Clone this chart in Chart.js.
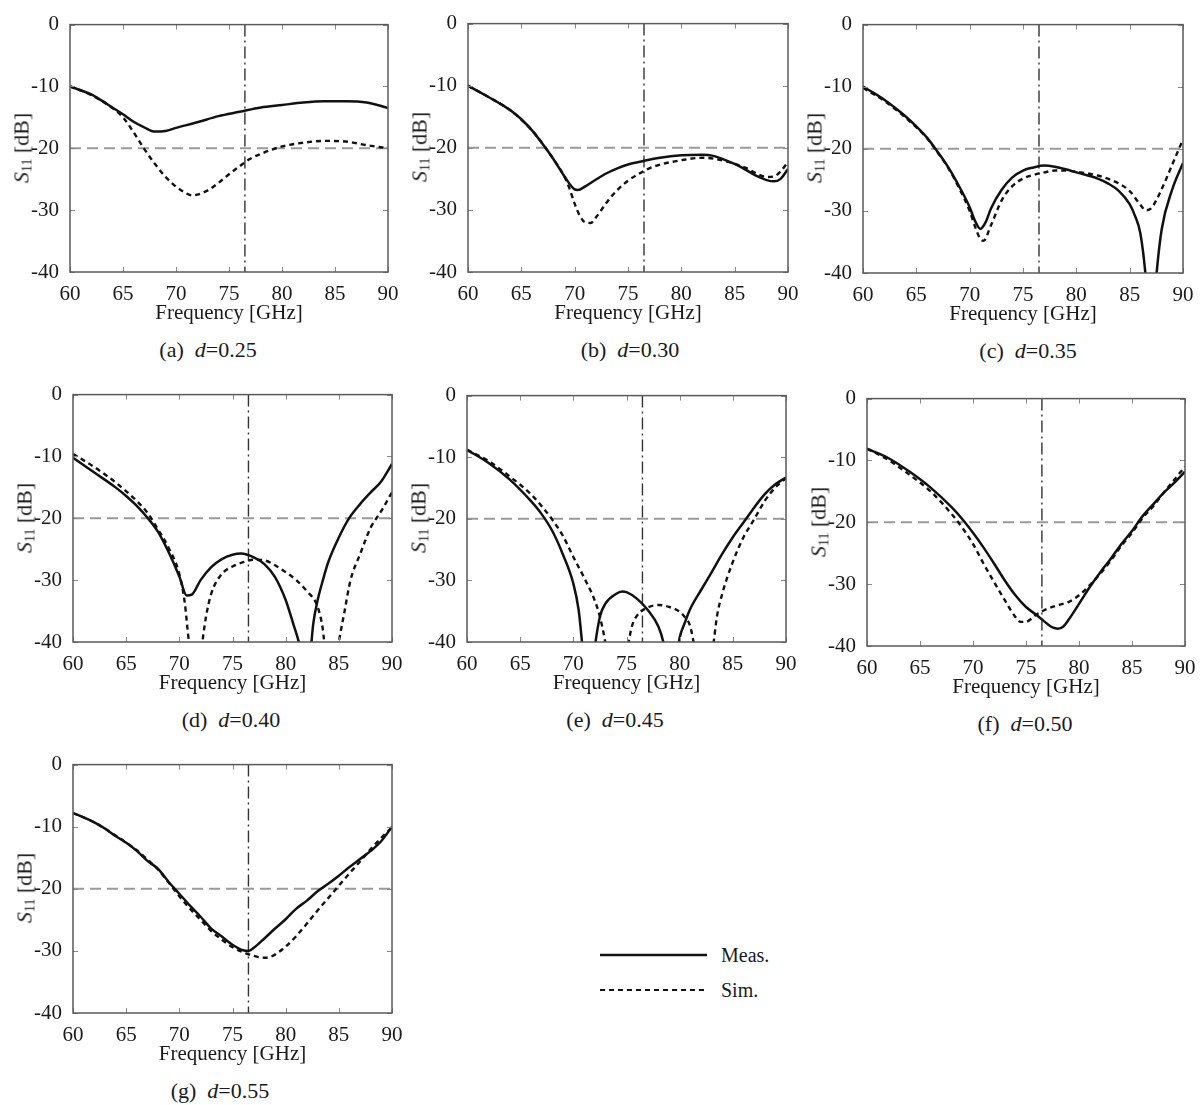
<!DOCTYPE html>
<html>
<head>
<meta charset="utf-8">
<title>S11 vs frequency</title>
<script src="https://cdn.jsdelivr.net/npm/chart.js@4.4.1/dist/chart.umd.min.js"></script>
<style>
    body { margin: 0; background: #fff; width: 1204px; height: 1105px; position: relative; overflow: hidden;
           font-family: "Liberation Serif", "Times New Roman", serif; color: #1a1a1a; }
    canvas { position: absolute; }
    .ylab { position: absolute; transform: translate(-50%, -50%) rotate(-90deg); white-space: nowrap; font-size: 22px; }
    .ylab sub { font-size: 14px; vertical-align: -3px; }
    .cap { position: absolute; transform: translate(-50%, -50%); white-space: nowrap; font-size: 22px; }
    .legtxt { position: absolute; transform: translateY(-50%); font-size: 20px; }
    svg { position: absolute; left: 0; top: 0; }
</style>
</head>
<body>
<svg width="1204" height="1105">
    <line x1="600" y1="955" x2="707" y2="955" stroke="#111" stroke-width="2.5"/>
    <line x1="600" y1="990" x2="707" y2="990" stroke="#111" stroke-width="2" stroke-dasharray="5 4"/>
</svg>
<div class="legtxt" style="left:721px; top:955px">Meas.</div>
<div class="legtxt" style="left:721px; top:990px">Sim.</div>

<script>
// axis ticks
const freqTicks = [60, 65, 70, 75, 80, 85, 90];
const dbTicks = [0, -10, -20, -30, -40];

// reference lines: -20 dB level and 76.5 GHz marker
const refLevelF = [60, 90];
const refLevelDb = [-20, -20];
const refFreqF = [76.5, 76.5];
const refFreqDb = [0, -40];

// panel captions
const panelTags = ['(a)', '(b)', '(c)', '(d)', '(e)', '(f)', '(g)'];
const dValues = ['0.25', '0.30', '0.35', '0.40', '0.45', '0.50', '0.55'];

// (a) d=0.25
const measAf = [60, 62, 63, 64, 65, 66, 67, 68, 69, 70, 72, 74, 76, 78, 80, 82, 84, 86, 88, 89, 90];
const measAdb = [-10, -11.3, -12.3, -13.4, -14.5, -15.7, -16.6, -17.3, -17.2, -16.7, -15.8, -14.8, -14.1, -13.4, -13, -12.6, -12.4, -12.4, -12.6, -13, -13.5];
const simAf = [60, 62, 64, 65, 66, 67, 68, 69, 70, 71, 71.5, 72, 73, 74, 75, 76, 77, 78, 80, 82, 84, 86, 88, 90];
const simAdb = [-10, -11.4, -13.5, -15, -17.4, -20.1, -22.5, -24.6, -26.2, -27.3, -27.6, -27.5, -26.8, -25.6, -24.2, -22.9, -21.7, -20.9, -19.7, -19.1, -18.8, -18.9, -19.5, -20];

// (b) d=0.30
const measBf = [60, 62, 64, 65, 66, 67, 68, 69, 70, 70.3, 71, 72, 73, 74, 75, 76, 78, 80, 82, 83, 84, 85, 86, 87, 88, 88.7, 89.3, 90];
const measBdb = [-10, -11.9, -14, -15.4, -17.2, -19.4, -21.8, -24.5, -26.7, -26.8, -26.2, -25.1, -24.1, -23.3, -22.7, -22.3, -21.6, -21.2, -21.1, -21.3, -21.9, -22.6, -23.5, -24.5, -25.2, -25.4, -25, -23.4];
const simBf = [60, 62, 64, 66, 68, 69, 69.5, 70, 70.5, 71, 71.5, 72, 73, 74, 75, 76, 77, 78, 80, 82, 84, 86, 87, 88, 88.7, 89.3, 90];
const simBdb = [-10, -11.9, -14, -17.2, -21.8, -24.5, -26.5, -29, -31, -32, -32.1, -31.2, -28.8, -26.8, -25.3, -24.2, -23.3, -22.7, -22, -21.6, -22.1, -23.2, -24.1, -24.7, -24.6, -23.8, -22.3];

// (c) d=0.35
const measCf = [60, 61, 62, 63, 64, 65, 66, 67, 68, 69, 70, 70.5, 71, 71.5, 72, 73, 74, 75, 76, 77, 78, 79, 80, 82, 83, 84, 85, 85.5, 86, 86.5, 87, 87.5, 88, 89, 90];
const measCdb = [-10, -11, -12.1, -13.4, -14.8, -16.4, -18.2, -20.5, -23, -26, -29.4, -31.6, -32.9, -31.8, -29.6, -26.6, -24.6, -23.5, -23, -22.7, -22.9, -23.3, -23.8, -24.8, -25.6, -26.8, -28.9, -30.8, -33.6, -40.5, -52, -40.5, -33, -26.5, -22.3];
const simCf = [60, 62, 64, 66, 67, 68, 69, 70, 70.5, 71, 71.3, 72, 73, 74, 75, 76, 77, 78, 79, 80, 82, 84, 85, 86, 86.5, 87, 88, 89, 90];
const simCdb = [-10.2, -12.3, -15, -18.3, -20.6, -23.1, -26.3, -30, -32.5, -34.5, -34.8, -32.3, -28.3, -26, -24.8, -24.2, -23.8, -23.5, -23.5, -23.7, -24.3, -25.6, -26.8, -29, -29.9, -29.6, -26.5, -22.5, -18.5];

// (d) d=0.40
const measDf = [60, 62, 64, 65, 66, 67, 68, 69, 70, 70.7, 71.2, 72, 73, 74, 75, 75.8, 77, 78, 79, 80, 80.7, 81.3, 82, 82.4, 82.6, 83, 83.5, 84, 85, 86, 87, 88, 89, 90];
const measDdb = [-10.2, -12.6, -15, -16.4, -18, -19.9, -22.2, -25.5, -29.4, -32.5, -32.3, -30, -27.9, -26.6, -25.9, -25.7, -26.3, -27.4, -29.5, -33.2, -37, -40.5, -48, -40.5, -37, -33.3, -30, -27.1, -23.1, -19.9, -17.7, -15.8, -14, -11.2];
const simDf = [60, 62, 64, 66, 67, 68, 69, 70, 70.5, 70.9, 71.5, 72, 72.5, 73, 74, 75, 76, 77, 78, 79, 80, 81, 82, 83, 83.5, 84, 84.5, 85, 85.5, 86.1, 87, 88, 89, 90];
const simDdb = [-9.6, -11.7, -14.2, -17.2, -19.1, -21.8, -24.8, -29, -33.5, -40, -47, -42, -36, -32.2, -29, -27.8, -27.1, -26.7, -26.8, -27.6, -28.7, -30, -31.8, -34.3, -38, -46, -46, -40, -35.4, -30, -25.8, -21.5, -18.8, -15.8];

// (e) d=0.45
const measEf = [60, 62, 64, 66, 67, 68, 69, 70, 70.5, 71, 71.5, 72, 72.5, 73, 74, 74.6, 75, 76, 77, 78, 78.5, 79, 79.5, 80, 80.5, 81, 82, 83, 84, 85, 86, 87, 88, 89, 90];
const measEdb = [-8.8, -10.9, -13.6, -17.1, -19.2, -21.9, -25.7, -30.5, -34.8, -43, -48, -41, -35.9, -33.8, -32.2, -31.8, -31.9, -33, -34.8, -37.5, -40.3, -46, -45, -39.3, -36.8, -34.6, -31.6, -28.7, -25.7, -23, -20.6, -18.2, -16, -14.4, -13.3];
const simEf = [60, 62, 64, 66, 67, 68, 69, 70, 71, 72, 72.5, 73, 73.5, 74, 74.5, 75.2, 75.5, 76, 77, 78, 79, 80, 80.5, 81, 81.5, 82, 82.5, 83.2, 83.5, 84, 85, 86, 87, 88, 89, 90];
const simEdb = [-8.8, -10.6, -13.1, -16, -17.9, -20.1, -22.7, -26.2, -29.5, -33.2, -35.9, -40, -46, -50, -46, -40, -37.5, -35.7, -34.4, -34, -34.3, -35.1, -36, -37.5, -42, -48, -48, -40, -35.9, -32.2, -27, -23, -20.1, -17.1, -14.9, -13.4];

// (f) d=0.50
const measFf = [60, 62, 64, 66, 68, 69, 70, 71, 72, 73, 74, 75, 76, 76.5, 77, 77.5, 78, 78.5, 79, 80, 81, 82, 83, 84, 85, 86, 87, 88, 89, 90];
const measFdb = [-8.1, -9.6, -11.8, -14.4, -17.6, -19.5, -21.7, -24.1, -26.7, -29.4, -31.8, -33.7, -35, -35.7, -36.4, -37, -37.2, -36.9, -35.8, -33.2, -30.5, -28.1, -25.9, -23.5, -21.4, -19, -17.1, -15.2, -13.6, -11.8];
const simFf = [60, 62, 64, 66, 68, 69, 70, 71, 72, 73, 74, 74.5, 75, 75.5, 76, 77, 78, 79, 80, 81, 82, 83, 84, 85, 86, 87, 88, 89, 90];
const simFdb = [-8.1, -9.9, -12.3, -15, -18.7, -20.9, -23.5, -26.7, -29.7, -32.6, -35.3, -36.1, -36.1, -35.6, -34.9, -34, -33.4, -32.9, -31.8, -30.2, -28.3, -26.2, -23.8, -21.7, -19.3, -17.4, -15.2, -13.1, -11];

// (g) d=0.55
const measGf = [60, 61, 62, 63, 64, 65, 66, 67, 68, 69, 70, 71, 72, 73, 74, 75, 76, 76.5, 77, 78, 79, 80, 81, 82, 83, 84, 85, 86, 87, 88, 89, 90];
const measGdb = [-7.8, -8.5, -9.3, -10.3, -11.5, -12.6, -13.9, -15.5, -16.8, -18.9, -20.8, -22.7, -24.5, -26.4, -27.7, -29, -29.9, -30, -29.5, -28, -26.4, -24.9, -23.2, -21.9, -20.4, -19.2, -17.9, -16.5, -15.2, -13.9, -12.3, -10];
const simGf = [60, 62, 64, 66, 67, 68, 69, 70, 71, 72, 73, 74, 75, 76, 77, 78, 78.5, 79, 80, 81, 82, 83, 84, 85, 86, 87, 88, 89, 90];
const simGdb = [-7.8, -9.3, -11.4, -13.8, -15.3, -16.9, -19, -21.2, -23.2, -25, -26.8, -28.2, -29.4, -30.2, -30.8, -31.1, -31, -30.6, -29.3, -27.6, -25.6, -23.5, -21.5, -19.5, -17.5, -15.6, -13.6, -11.8, -10.1];

const measF = [measAf, measBf, measCf, measDf, measEf, measFf, measGf];
const measDb = [measAdb, measBdb, measCdb, measDdb, measEdb, measFdb, measGdb];
const simF = [simAf, simBf, simCf, simDf, simEf, simFf, simGf];
const simDb = [simAdb, simBdb, simCdb, simDdb, simEdb, simFdb, simGdb];

// plot-area rectangles on the page (layout only)
const plotBoxes = [
    { left: 70,  top: 23,  w: 318, h: 249, capX: 208 },
    { left: 468, top: 22,  w: 320, h: 250, capX: 630 },
    { left: 863, top: 23,  w: 320, h: 250, capX: 1028 },
    { left: 73,  top: 393, w: 319, h: 249, capX: 231 },
    { left: 467, top: 394, w: 319, h: 248, capX: 615 },
    { left: 867, top: 397, w: 318, h: 249, capX: 1025 },
    { left: 73,  top: 763, w: 319, h: 250, capX: 220 }
];

const FONT = '"Liberation Serif", "Times New Roman", serif';
const PAD_LEFT = 60, PAD_TOP = 14, PAD_RIGHT = 16, PAD_BOTTOM = 52;

const pts = (f, v) => f.map((x, i) => ({ x: x, y: v[i] }));

// box frame with inward ticks, like the original plots
const framePlugin = {
    id: 'frame',
    afterDatasetsDraw(chart) {
        const { ctx, chartArea: a, scales } = chart;
        ctx.save();
        ctx.strokeStyle = '#8a8a8a';
        ctx.lineWidth = 1;
        ctx.beginPath();
        freqTicks.forEach(t => {
            const px = Math.round(scales.x.getPixelForValue(t)) + 0.5;
            ctx.moveTo(px, a.bottom); ctx.lineTo(px, a.bottom - 5);
            ctx.moveTo(px, a.top); ctx.lineTo(px, a.top + 5);
        });
        dbTicks.forEach(t => {
            const py = Math.round(scales.y.getPixelForValue(t)) + 0.5;
            ctx.moveTo(a.left, py); ctx.lineTo(a.left + 5, py);
            ctx.moveTo(a.right, py); ctx.lineTo(a.right - 5, py);
        });
        ctx.stroke();
        ctx.strokeStyle = '#5a5a5a';
        ctx.lineWidth = 1.5;
        ctx.strokeRect(a.left, a.top, a.right - a.left, a.bottom - a.top);
        ctx.restore();
    }
};

function makePanel(i) {
    const box = plotBoxes[i];
    const cv = document.createElement('canvas');
    const W = box.w + PAD_LEFT + PAD_RIGHT;
    const H = box.h + PAD_TOP + PAD_BOTTOM;
    cv.width = W; cv.height = H;
    cv.style.width = W + 'px'; cv.style.height = H + 'px';
    cv.style.left = (box.left - PAD_LEFT) + 'px';
    cv.style.top = (box.top - PAD_TOP) + 'px';
    document.body.appendChild(cv);

    new Chart(cv, {
        type: 'line',
        data: {
            datasets: [
                { data: pts(measF[i], measDb[i]), borderColor: '#111', borderWidth: 2.5,
                  cubicInterpolationMode: 'monotone', clip: 0 },
                { data: pts(simF[i], simDb[i]), borderColor: '#111', borderWidth: 2.4, borderDash: [5, 4],
                  cubicInterpolationMode: 'monotone', clip: 0 },
                { data: pts(refLevelF, refLevelDb), borderColor: '#9a9a9a', borderWidth: 2, borderDash: [11, 6], clip: 0 },
                { data: pts(refFreqF, refFreqDb), borderColor: '#333', borderWidth: 1.4, borderDash: [12, 4, 2, 4], clip: 0 }
            ]
        },
        options: {
            responsive: false,
            animation: false,
            events: [],
            layout: { padding: { left: 0, top: PAD_TOP, right: PAD_RIGHT, bottom: 0 } },
            elements: { point: { radius: 0 } },
            plugins: { legend: { display: false }, tooltip: { enabled: false } },
            scales: {
                x: {
                    type: 'linear', min: 60, max: 90,
                    afterBuildTicks: s => { s.ticks = freqTicks.map(v => ({ value: v })); },
                    ticks: { font: { family: FONT, size: 21 }, color: '#1a1a1a', padding: 2, maxRotation: 0 },
                    grid: { display: false }, border: { display: false },
                    title: { display: true, text: 'Frequency [GHz]', color: '#1a1a1a', padding: 0,
                             font: { family: FONT, size: 21, lineHeight: 1 } },
                    afterFit: s => { s.height = PAD_BOTTOM; }
                },
                y: {
                    type: 'linear', min: -40, max: 0,
                    afterBuildTicks: s => { s.ticks = dbTicks.slice().reverse().map(v => ({ value: v })); },
                    ticks: { font: { family: FONT, size: 21 }, color: '#1a1a1a', padding: 3 },
                    grid: { display: false }, border: { display: false },
                    afterFit: s => { s.width = PAD_LEFT; }
                }
            }
        },
        plugins: [framePlugin]
    });

    const yl = document.createElement('div');
    yl.className = 'ylab';
    yl.innerHTML = '<i>S</i><sub>11</sub> [dB]';
    yl.style.left = (box.left - 48) + 'px';
    yl.style.top = (box.top + box.h / 2) + 'px';
    document.body.appendChild(yl);

    const cap = document.createElement('div');
    cap.className = 'cap';
    cap.innerHTML = panelTags[i] + '&nbsp;&nbsp;<i>d</i>=' + dValues[i];
    cap.style.left = box.capX + 'px';
    cap.style.top = (box.top + box.h + 78) + 'px';
    document.body.appendChild(cap);
}

plotBoxes.forEach((b, i) => makePanel(i));
</script>
</body>
</html>
